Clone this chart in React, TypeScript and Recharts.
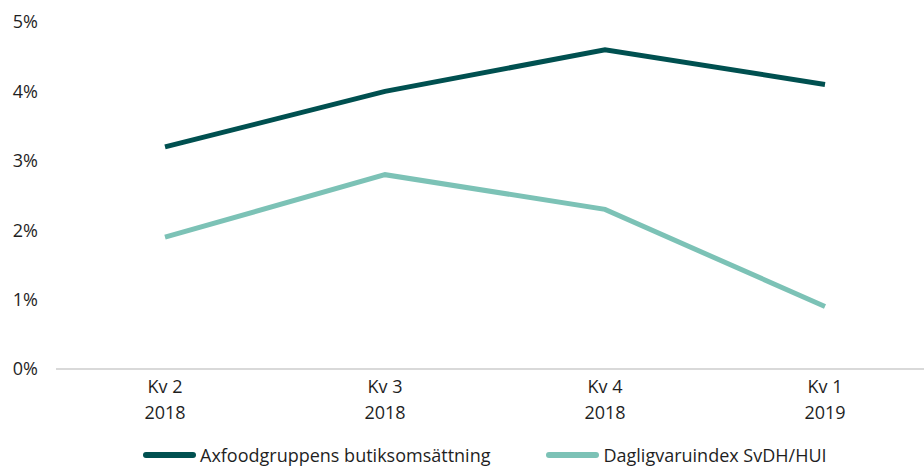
import React from 'react';
import { CartesianGrid, Legend, Line, LineChart, XAxis, YAxis } from 'recharts';

// Quarterly sales growth, Axfood vs. the grocery index.
const QUARTERS = ['Kv 2', 'Kv 3', 'Kv 4', 'Kv 1'];
const YEARS = ['2018', '2018', '2018', '2019'];
const AXFOOD = [3.2, 4.0, 4.6, 4.1];
const INDEX = [1.9, 2.8, 2.3, 0.9];
const Y_TICKS = [0, 1, 2, 3, 4, 5];
const SERIES_NAMES = ['Axfoodgruppens butiksomsättning', 'Dagligvaruindex SvDH/HUI'];

const DARK = '#005050';
const LIGHT = '#7cc2b6';
const TEXT = '#1f1f1f';
const FONT = '"Open Sans", Roboto, sans-serif';

const data = QUARTERS.map((q, i) => ({
  key: `${q}-${YEARS[i]}`,
  quarter: q,
  year: YEARS[i],
  axfood: AXFOOD[i],
  index: INDEX[i],
}));

function QuarterTick({ x, y, payload }: any) {
  const d = data.find((r) => r.key === payload.value);
  return (
    <g transform={`translate(${x},${y})`}>
      <text textAnchor="middle" fill={TEXT} fontSize={18} fontFamily={FONT}>
        <tspan x={0} dy={16}>{d?.quarter}</tspan>
        <tspan x={0} dy={26}>{d?.year}</tspan>
      </text>
    </g>
  );
}

function LegendRow() {
  const items = [
    { name: SERIES_NAMES[0], color: DARK },
    { name: SERIES_NAMES[1], color: LIGHT },
  ];
  return (
    <div style={{ display: 'flex', gap: 56, fontFamily: FONT, fontSize: 18, color: TEXT, lineHeight: '22px' }}>
      {items.map((it) => (
        <div key={it.name} style={{ display: 'flex', alignItems: 'center' }}>
          <span style={{ width: 53, height: 6, borderRadius: 3, background: it.color, marginRight: 4 }} />
          <span>{it.name}</span>
        </div>
      ))}
    </div>
  );
}

export default function App() {
  return (
    <div style={{ position: 'absolute', left: 0, top: 0, width: 924, height: 466, background: '#fff' }}>
      <LineChart width={924} height={466} data={data} margin={{ top: 22, right: 0, left: 0, bottom: 15 }}>
        <CartesianGrid stroke="none" />
        <XAxis
          dataKey="key"
          scale="point"
          padding={{ left: 109, right: 99 }}
          tick={<QuarterTick />}
          tickLine={false}
          axisLine={{ stroke: '#d9d9d9', strokeWidth: 2 }}
          interval={0}
          height={60}
        />
        <YAxis
          domain={[0, 5]}
          ticks={Y_TICKS}
          tickFormatter={(v) => `${v}%`}
          tick={{ fill: TEXT, fontSize: 18, fontFamily: FONT }}
          tickLine={false}
          axisLine={false}
          tickSize={0}
          tickMargin={18}
          width={56}
        />
        <Legend
          content={<LegendRow />}
          wrapperStyle={{ left: 143, bottom: 0, width: 'auto', height: 22 }}
        />
        <Line dataKey="axfood" name={SERIES_NAMES[0]} stroke={DARK} strokeWidth={5} dot={false} isAnimationActive={false} />
        <Line dataKey="index" name={SERIES_NAMES[1]} stroke={LIGHT} strokeWidth={5} dot={false} isAnimationActive={false} />
      </LineChart>
    </div>
  );
}
